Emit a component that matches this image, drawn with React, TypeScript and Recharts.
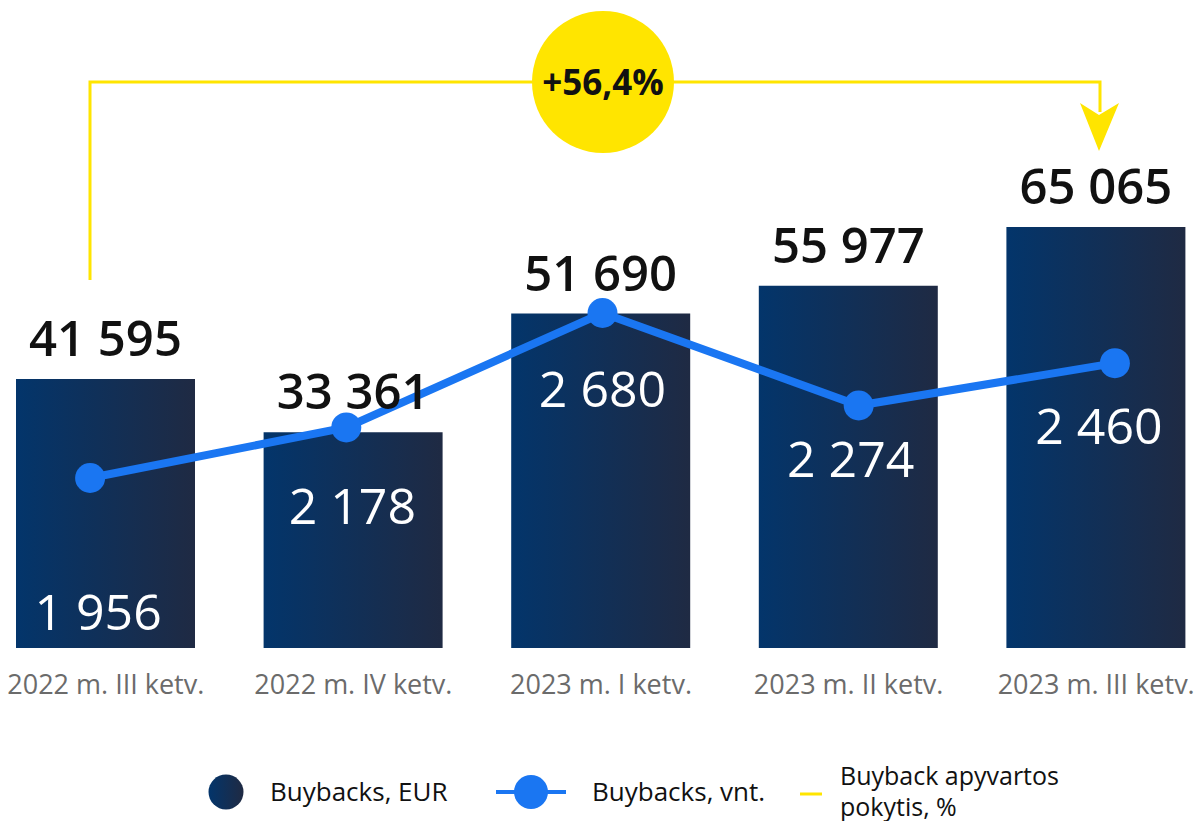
import React from 'react';
import { ComposedChart, Bar, Line, XAxis, YAxis, LabelList } from 'recharts';

const quarters = ['2022 m. III ketv.', '2022 m. IV ketv.', '2023 m. I ketv.', '2023 m. II ketv.', '2023 m. III ketv.'];
const buybacksEur = [41595, 33361, 51690, 55977, 65065];
const buybacksVnt = [1956, 2178, 2680, 2274, 2460];
const turnoverChange = '+56,4%';

const seriesNames = ['Buybacks, EUR', 'Buybacks, vnt.', 'Buyback apyvartos', 'pokytis, %'];

// where the white "vnt." labels sit relative to their point (layout only)
const vntLabelShift = [
  { dx: 8, dy: 152 },
  { dx: 6, dy: 97 },
  { dx: 0, dy: 94 },
  { dx: -8, dy: 71 },
  { dx: -16, dy: 81 },
];

const data = quarters.map((q, i) => ({ quarter: q, eur: buybacksEur[i], vnt: buybacksVnt[i] }));

const fmt = (v: number) => String(v).replace(/\B(?=(\d{3})+(?!\d))/g, ' ');

const FONT = '"Open Sans", "Noto Sans", sans-serif';
const BLUE = '#1a76f2';
const YELLOW = '#ffe500';

function VntLabel(props: any) {
  const { x, y, value } = props;
  const i = buybacksVnt.indexOf(Number(value));
  const s = vntLabelShift[i] || { dx: 0, dy: 80 };
  return (
    <text x={x + s.dx} y={y + s.dy} textAnchor="middle" fill="#fff" fontSize={50} fontFamily={FONT}>
      {fmt(Number(value))}
    </text>
  );
}

function Annotation() {
  return (
    <svg width={1201} height={300} style={{ position: 'absolute', left: 0, top: 0, pointerEvents: 'none' }}>
      <polyline points="90,280 90,82 1100,82 1100,112" fill="none" stroke={YELLOW} strokeWidth={3} />
      <polygon points="1080,103 1099,115 1119,103 1099,151" fill={YELLOW} />
      <circle cx={603} cy={82} r={71} fill={YELLOW} />
      <text x={603} y={95} textAnchor="middle" fontSize={35} fontWeight={700} fontFamily={FONT} fill="#111">
        {turnoverChange}
      </text>
    </svg>
  );
}

function LegendBox() {
  return (
    <svg width={1201} height={90} style={{ position: 'absolute', left: 0, top: 740 }}>
      <defs>
        <linearGradient id="legGrad" x1="0" y1="0" x2="1" y2="0">
          <stop offset="0%" stopColor="#03356b" />
          <stop offset="100%" stopColor="#1f2a43" />
        </linearGradient>
      </defs>
      <circle cx={226} cy={52} r={17.5} fill="url(#legGrad)" />
      <text x={270} y={61} fontSize={26} fontFamily={FONT} fill="#111">{seriesNames[0]}</text>
      <line x1={496} x2={566} y1={52} y2={52} stroke={BLUE} strokeWidth={4} />
      <circle cx={531} cy={52} r={17} fill={BLUE} />
      <text x={592} y={61} fontSize={26} fontFamily={FONT} fill="#111">{seriesNames[1]}</text>
      <line x1={800} x2={822} y1={54} y2={54} stroke={YELLOW} strokeWidth={3} />
      <text x={840} y={45} fontSize={25} fontFamily={FONT} fill="#111">{seriesNames[2]}</text>
      <text x={840} y={76} fontSize={25} fontFamily={FONT} fill="#111">{seriesNames[3]}</text>
    </svg>
  );
}

export default function App() {
  return (
    <div
      style={{
        position: 'absolute',
        left: 0,
        top: 0,
        width: 1201,
        height: 821,
        overflow: 'hidden',
        background: '#fff',
        fontFamily: FONT,
      }}
    >
      <div style={{ position: 'absolute', left: -38, top: 0 }}>
        <ComposedChart width={1281} height={710} data={data} margin={{ top: 1, right: 0, left: 0, bottom: 2 }}>
          <defs>
            <linearGradient id="barGrad" x1="0" y1="0" x2="1" y2="0">
              <stop offset="0%" stopColor="#03356b" />
              <stop offset="100%" stopColor="#1f2a43" />
            </linearGradient>
          </defs>
          <XAxis
            xAxisId="bar"
            dataKey="quarter"
            padding={{ left: 20, right: 23 }}
            axisLine={false}
            tickLine={false}
            tickSize={0}
            tickMargin={27}
            interval={0}
            height={60}
            tick={{ fill: '#6b6b6b', fontSize: 27, fontFamily: FONT }}
          />
          <XAxis xAxisId="line" dataKey="quarter" hide />
          <YAxis yAxisId="eur" domain={[0, 100000]} hide />
          <YAxis yAxisId="vnt" domain={[1210, 4049]} hide orientation="right" />
          <Bar xAxisId="bar" yAxisId="eur" dataKey="eur" name={seriesNames[0]} barSize={179} fill="url(#barGrad)" isAnimationActive={false}>
            <LabelList
              dataKey="eur"
              position="top"
              offset={23}
              formatter={(v: any) => fmt(Number(v))}
              style={{ fill: '#111', fontSize: 49, fontWeight: 600, fontFamily: FONT }}
            />
          </Bar>
          <Line
            xAxisId="line"
            yAxisId="vnt"
            dataKey="vnt"
            name={seriesNames[1]}
            stroke={BLUE}
            strokeWidth={8}
            dot={{ r: 15, fill: BLUE, stroke: 'none' }}
            activeDot={false}
            isAnimationActive={false}
          >
            <LabelList dataKey="vnt" content={<VntLabel />} />
          </Line>
        </ComposedChart>
      </div>
      <Annotation />
      <LegendBox />
    </div>
  );
}
